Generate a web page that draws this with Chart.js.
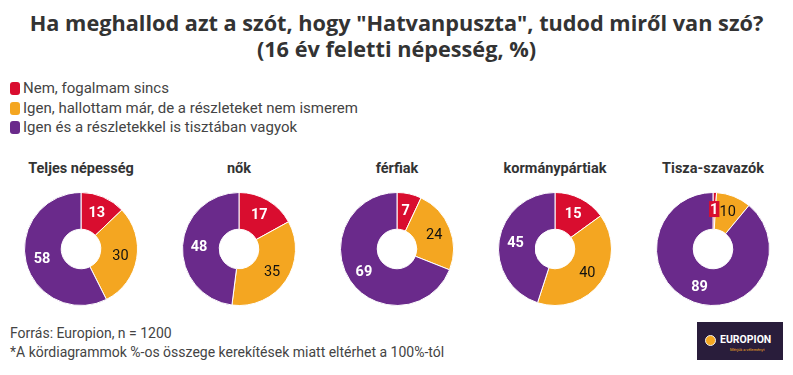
<!DOCTYPE html>
<html lang="hu">
<head>
    <meta charset="UTF-8">
    <title>Hatvanpuszta</title>
    <script src="https://cdn.jsdelivr.net/npm/chart.js"></script>
    <style>
        body { margin: 0; background: #fff; width: 793px; height: 375px; position: relative; overflow: hidden; font-family: Roboto, sans-serif; }
        #title { position: absolute; top: 10px; left: 0; width: 793px; text-align: center; font-weight: bold; font-size: 21.7px; line-height: 26px; color: #333; font-family: "Open Sans", sans-serif; }
        #legend { position: absolute; top: 79px; left: 10px; font-size: 15px; color: #444; }
        .leg-item { height: 19.5px; line-height: 19px; }
        .leg-box { display: inline-block; width: 10px; height: 13px; border-radius: 3px; vertical-align: -2px; margin-right: 3px; }
        .sub { position: absolute; top: 160px; width: 158px; text-align: center; font-weight: bold; font-size: 14.5px; color: #333; }
        .donut { position: absolute; top: 191px; width: 116px; height: 116px; }
        #footer { position: absolute; top: 324px; left: 10px; font-size: 14px; line-height: 19px; color: #444; }
        #logo { position: absolute; left: 697px; top: 322px; width: 86px; height: 38px; background: #291d3b; }
        #logo .ic { position: absolute; left: 8px; top: 13px; width: 9px; height: 9px; border-radius: 50%; border: 1.5px solid #eee; background: #f4a720; }
        #logo .nm { position: absolute; left: 23px; top: 11px; font-size: 10.5px; font-weight: bold; color: #fff; }
        #logo .tg { position: absolute; left: 33px; top: 25px; font-size: 4px; color: #f4a720; }
    </style>
</head>
<body>
    <div id="title">Ha meghallod azt a szót, hogy "Hatvanpuszta", tudod miről van szó?<br>(16 év feletti népesség, %)</div>
    <div id="legend"></div>
    <div id="charts"></div>
    <div id="footer">Forrás: Europion, n = 1200<br>*A kördiagrammok %-os összege kerekítések miatt eltérhet a 100%-tól</div>
    <div id="logo"><div class="ic"></div><div class="nm">EUROPION</div><div class="tg">Mérjük a véleményt</div></div>

    <script>
        // answers, in drawing order (clockwise from top)
        var answers = ["Nem, fogalmam sincs", "Igen, hallottam már, de a részleteket nem ismerem", "Igen és a részletekkel is tisztában vagyok"];
        var colors = ["#d90d2f", "#f4a621", "#6a2a8b"];
        var labelColors = ["#ffffff", "#111111", "#ffffff"];

        var groups = ["Teljes népesség", "nők", "férfiak", "kormánypártiak", "Tisza-szavazók"];
        var nem = [13, 17, 7, 15, 1];
        var hallottam = [30, 35, 24, 40, 10];
        var tisztaban = [58, 48, 69, 45, 89];

        // legend
        var legend = document.getElementById("legend");
        answers.forEach(function (a, i) {
            var d = document.createElement("div");
            d.className = "leg-item";
            d.innerHTML = '<span class="leg-box" style="background:' + colors[i] + '"></span>' + a;
            legend.appendChild(d);
        });

        // value labels on the arcs
        var arcLabels = {
            id: "arcLabels",
            afterDatasetsDraw: function (chart) {
                var ctx = chart.ctx;
                var meta = chart.getDatasetMeta(0);
                ctx.save();
                ctx.textAlign = "center";
                ctx.textBaseline = "middle";
                meta.data.forEach(function (arc, i) {
                    var v = chart.data.datasets[0].data[i];
                    var p = arc.getProps(["x", "y", "startAngle", "endAngle", "innerRadius", "outerRadius"], true);
                    var mid = (p.startAngle + p.endAngle) / 2;
                    var r = p.innerRadius + (p.outerRadius - p.innerRadius) * 0.55;
                    var x = p.x + Math.cos(mid) * r;
                    var y = p.y + Math.sin(mid) * r;
                    ctx.font = (labelColors[i] === "#ffffff" ? "bold " : "") + "14.5px Roboto, sans-serif";
                    if (v < 3) {
                        var w = ctx.measureText(String(v)).width;
                        ctx.fillStyle = colors[i];
                        ctx.fillRect(x - w / 2 - 1, y - 8, w + 2, 16);
                    }
                    ctx.fillStyle = labelColors[i];
                    ctx.fillText(String(v), x, y + 1);
                });
                ctx.restore();
            }
        };

        var charts = document.getElementById("charts");
        var centers = [81, 239, 397, 555, 713];
        groups.forEach(function (g, k) {
            var sub = document.createElement("div");
            sub.className = "sub";
            sub.style.left = (centers[k] - 79) + "px";
            sub.textContent = g;
            charts.appendChild(sub);

            var c = document.createElement("canvas");
            c.className = "donut";
            c.style.left = (centers[k] - 58) + "px";
            c.width = 116;
            c.height = 116;
            charts.appendChild(c);

            new Chart(c, {
                type: "doughnut",
                data: {
                    labels: answers,
                    datasets: [{
                        data: [nem[k], hallottam[k], tisztaban[k]],
                        backgroundColor: colors,
                        borderColor: "#ffffff",
                        borderWidth: 1
                    }]
                },
                options: {
                    responsive: false,
                    animation: false,
                    cutout: "35%",
                    layout: { padding: 1 },
                    plugins: { legend: { display: false }, tooltip: { enabled: false } }
                },
                plugins: [arcLabels]
            });
        });
    </script>
</body>
</html>
